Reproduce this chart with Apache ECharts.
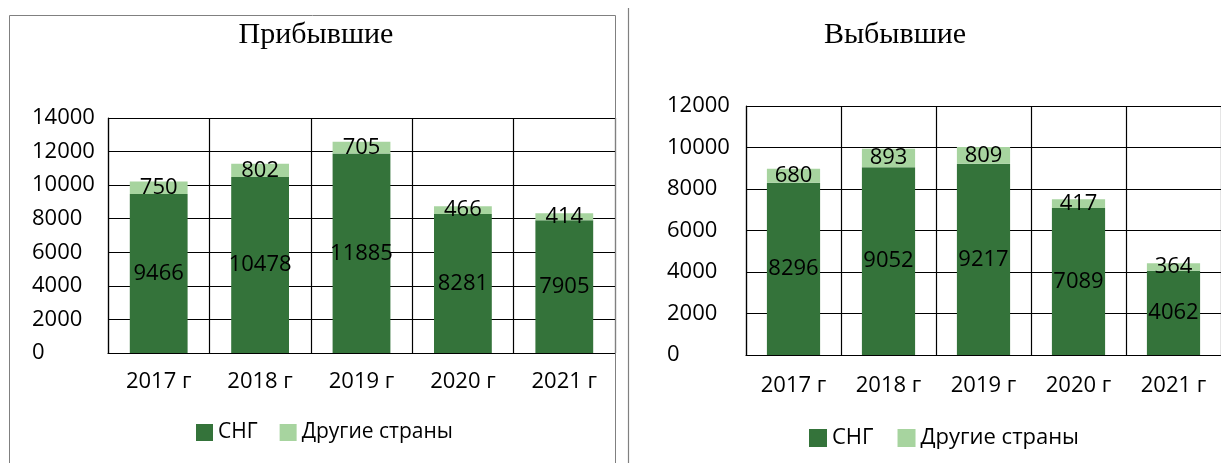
<!DOCTYPE html>
<html>
<head>
<meta charset="utf-8">
<script src="https://cdn.jsdelivr.net/npm/echarts@6/dist/echarts.min.js"></script>
<style>
html,body{margin:0;padding:0;background:#fff;}
#chart{width:1221px;height:463px;}
</style>
</head>
<body>
<div id="chart"></div>
<script>
const categories = ['2017 г', '2018 г', '2019 г', '2020 г', '2021 г'];
const arrivedCIS = [9466, 10478, 11885, 8281, 7905];
const arrivedOther = [750, 802, 705, 466, 414];
const departedCIS = [8296, 9052, 9217, 7089, 4062];
const departedOther = [680, 893, 809, 417, 364];
const titleArrived = 'Прибывшие';
const titleDeparted = 'Выбывшие';
const seriesNames = ['СНГ', 'Другие страны'];

const DARK = '#34733a';
const LIGHT = '#a7d49f';
const FONT = '"Open Sans", "Liberation Sans", sans-serif';
const FS = 22;

const chart = echarts.init(document.getElementById('chart'));

function xAxis(gridIndex, margin) {
  return {
    type: 'category', gridIndex, data: categories,
    axisLine: {show: true, lineStyle: {color: '#000', width: 1.2}},
    axisTick: {show: false},
    splitLine: {show: true, lineStyle: {color: '#000', width: 1.2}},
    axisLabel: {color: '#000', fontSize: FS, fontFamily: FONT, margin}
  };
}
function yAxis(gridIndex, max, margin) {
  return {
    type: 'value', gridIndex, min: 0, max, interval: 2000,
    axisLine: {show: true, lineStyle: {color: '#000', width: 1.2}},
    axisTick: {show: false},
    splitLine: {show: true, lineStyle: {color: '#000', width: 1.2}},
    axisLabel: {color: '#000', fontSize: FS, fontFamily: FONT, align: 'left', margin,
                formatter: v => String(v)}
  };
}
function bar(name, data, idx, color, stack, bw) {
  return {
    type: 'bar', name, data, xAxisIndex: idx, yAxisIndex: idx, stack,
    barWidth: bw, itemStyle: {color},
    label: {show: true, position: 'inside', color: '#000', fontSize: FS, fontFamily: FONT},
    z: 3
  };
}

chart.setOption({
  backgroundColor: '#fff',
  animation: false,
  title: [
    {text: titleArrived, left: 311, top: 15, textAlign: 'center',
     textStyle: {fontFamily: '"Liberation Serif", serif', fontSize: 30, fontWeight: 'normal', color: '#000'}},
    {text: titleDeparted, left: 890, top: 15, textAlign: 'center',
     textStyle: {fontFamily: '"Liberation Serif", serif', fontSize: 30, fontWeight: 'normal', color: '#000'}}
  ],
  legend: [
    {left: 191, top: 417, itemWidth: 17, itemHeight: 17, itemGap: 22, icon: 'rect',
     data: seriesNames, textStyle: {fontSize: 21, fontFamily: FONT, color: '#000'}},
    {left: 804, top: 422, itemWidth: 18, itemHeight: 18, itemGap: 24, icon: 'rect',
     data: seriesNames, textStyle: {fontSize: 22, fontFamily: FONT, color: '#000'}}
  ],
  grid: [
    {left: 108, top: 118, width: 507, height: 235},
    {left: 746, top: 106, width: 480, height: 249}
  ],
  xAxis: [xAxis(0, 18), xAxis(1, 20)],
  yAxis: [yAxis(0, 14000, 76), yAxis(1, 12000, 79)],
  series: [
    bar(seriesNames[0], arrivedCIS, 0, DARK, 'a', '57%'),
    bar(seriesNames[1], arrivedOther, 0, LIGHT, 'a', '57%'),
    bar(seriesNames[0], departedCIS, 1, DARK, 'b', '56%'),
    bar(seriesNames[1], departedOther, 1, LIGHT, 'b', '56%')
  ],
  graphic: [
    {type: 'rect', shape: {x: 9.5, y: 15.5, width: 606, height: 470}, silent: true,
     style: {fill: 'none', stroke: '#808080', lineWidth: 1}, z: 100},
    {type: 'line', shape: {x1: 628.5, y1: 8, x2: 628.5, y2: 463}, silent: true,
     style: {stroke: '#808080', lineWidth: 1.2}, z: 100}
  ]
});
</script>
</body>
</html>
